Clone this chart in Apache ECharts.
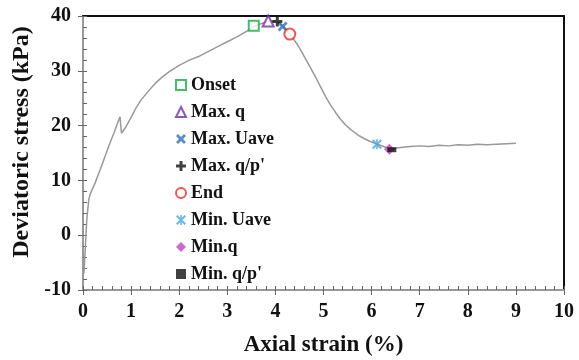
<!DOCTYPE html>
<html>
<head>
<meta charset="utf-8">
<script src="https://cdn.jsdelivr.net/npm/echarts@6/dist/echarts.min.js"></script>
<style>
  html, body { margin: 0; padding: 0; background: #fff; }
  #main { width: 579px; height: 360px; }
</style>
</head>
<body>
<div id="main"></div>
<script>
var strain = [0.02, 0.05, 0.08, 0.12, 0.15, 0.25, 0.35, 0.45, 0.55, 0.65, 0.72, 0.77, 0.80, 0.88, 1.0, 1.1, 1.2, 1.35, 1.5, 1.65, 1.8, 2.0, 2.2, 2.4, 2.6, 2.8, 3.0, 3.2, 3.4, 3.55, 3.7, 3.85, 3.95, 4.05, 4.15, 4.25, 4.35, 4.45, 4.55, 4.65, 4.75, 4.85, 4.95, 5.05, 5.15, 5.25, 5.35, 5.45, 5.55, 5.65, 5.75, 5.85, 5.95, 6.05, 6.15, 6.25, 6.35, 6.45, 6.6, 6.8, 7.0, 7.2, 7.4, 7.6, 7.8, 8.0, 8.2, 8.4, 8.6, 8.8, 9.0];
var stress = [-7, -2, 3, 6.5, 7.5, 9.5, 11.8, 14.2, 16.6, 18.8, 20.5, 21.6, 18.6, 19.6, 21.5, 23.2, 24.6, 26.2, 27.7, 28.9, 29.9, 31.0, 31.9, 32.6, 33.5, 34.4, 35.3, 36.2, 37.2, 38.1, 38.6, 39.0, 39.1, 38.9, 38.2, 37.2, 36.1, 34.9, 33.4, 31.8, 30.2, 28.6, 26.9, 25.2, 23.7, 22.4, 21.2, 20.2, 19.4, 18.7, 18.1, 17.6, 17.2, 16.8, 16.5, 16.2, 15.9, 15.8, 16.0, 16.2, 16.3, 16.2, 16.4, 16.3, 16.5, 16.4, 16.6, 16.5, 16.6, 16.7, 16.8];

var markerNames = ['Onset', 'Max. q', 'Max. Uave', 'Max. q/p\'', 'End', 'Min. Uave', 'Min.q', 'Min. q/p\''];
var markerX = [3.55, 3.85, 4.15, 4.04, 4.30, 6.11, 6.37, 6.42];
var markerY = [38.2, 39.1, 38.1, 39.0, 36.7, 16.6, 15.7, 15.6];

var xTicks = { min: 0, max: 10, interval: 1 };
var yTicks = { min: -10, max: 40, interval: 10 };

var font = 'Liberation Serif';

var crossPath = 'path://M0,2 L2,0 L5,3 L8,0 L10,2 L7,5 L10,8 L8,10 L5,7 L2,10 L0,8 L3,5 Z';
var plusPath = 'path://M3.5,0 L6.5,0 L6.5,3.5 L10,3.5 L10,6.5 L6.5,6.5 L6.5,10 L3.5,10 L3.5,6.5 L0,6.5 L0,3.5 L3.5,3.5 Z';
var starPath = 'path://M0,1.5 L1.5,0 L5,3.5 L8.5,0 L10,1.5 L6.5,5 L10,8.5 L8.5,10 L5,6.5 L1.5,10 L0,8.5 L3.5,5 Z M4.2,0 L5.8,0 L5.8,10 L4.2,10 Z';

var markerStyles = [
  { symbol: 'rect', size: 10, itemStyle: { color: '#fff', borderColor: '#1aaa4a', borderWidth: 2 } },
  { symbol: 'triangle', size: 11, itemStyle: { color: '#fff', borderColor: '#7030a0', borderWidth: 2 } },
  { symbol: crossPath, size: 10, itemStyle: { color: '#2e6fb6' } },
  { symbol: plusPath, size: 10, itemStyle: { color: '#111' } },
  { symbol: 'circle', size: 11, itemStyle: { color: '#fff', borderColor: '#e0332a', borderWidth: 2 } },
  { symbol: starPath, size: 10, itemStyle: { color: '#4aa8dc' } },
  { symbol: 'diamond', size: 11, itemStyle: { color: '#c045c0' } },
  { symbol: 'rect', size: [9, 5], itemStyle: { color: '#111' } }
];

var myChart = echarts.init(document.getElementById('main'), null, { renderer: 'canvas' });

var series = [{
  type: 'line',
  name: 'curve',
  data: strain.map(function (s, i) { return [s, stress[i]]; }),
  showSymbol: false,
  lineStyle: { color: '#999', width: 1.5 },
  z: 1
}];
markerNames.forEach(function (n, i) {
  var st = markerStyles[i];
  series.push({
    type: 'scatter',
    name: n,
    data: [[markerX[i], markerY[i]]],
    symbol: st.symbol,
    symbolSize: st.size,
    itemStyle: st.itemStyle,
    z: 3
  });
});

var tickColor = '#666';

// second axis on the same side, only for the outward major ticks
function outerTicks(pos, t) {
  return {
    type: 'value',
    position: pos,
    min: t.min, max: t.max, interval: t.interval,
    axisLine: { show: true, onZero: false, lineStyle: { color: '#999', width: 2 } },
    axisTick: { show: true, inside: false, length: 5, lineStyle: { color: tickColor, width: 1 } },
    axisLabel: { show: false },
    splitLine: { show: false }
  };
}

function frameLine(pos, t) {
  return {
    type: 'value',
    position: pos,
    min: t.min, max: t.max,
    axisLine: { onZero: false, lineStyle: { color: '#111', width: 2 } },
    axisTick: { show: false },
    axisLabel: { show: false },
    splitLine: { show: false }
  };
}

var option = {
  animation: false,
  grid: { left: 83, right: 15, top: 16, bottom: 70, outerBoundsMode: 'none' },
  legend: {
    data: markerNames,
    orient: 'vertical',
    left: 170,
    top: 71,
    itemGap: 9,
    itemWidth: 10,
    itemHeight: 10,
    textStyle: { fontFamily: font, fontWeight: 'bold', fontSize: 18, color: '#111' }
  },
  xAxis: [{
    type: 'value',
    position: 'bottom',
    min: xTicks.min, max: xTicks.max, interval: xTicks.interval,
    name: 'Axial strain (%)',
    nameLocation: 'middle',
    nameGap: 44,
    nameTextStyle: { fontFamily: font, fontWeight: 'bold', fontSize: 23, color: '#111' },
    axisLine: { show: true, onZero: false, lineStyle: { color: '#999', width: 2 } },
    axisTick: { show: true, inside: true, length: 4, lineStyle: { color: tickColor, width: 1 } },
    minorTick: { show: true, splitNumber: 5, length: 4, lineStyle: { color: tickColor, width: 1 } },
    axisLabel: { margin: 12, fontFamily: font, fontWeight: 'bold', fontSize: 20, color: '#111' },
    splitLine: { show: false }
  }, outerTicks('bottom', xTicks), frameLine('top', xTicks)],
  yAxis: [{
    type: 'value',
    position: 'left',
    min: yTicks.min, max: yTicks.max, interval: yTicks.interval,
    name: 'Deviatoric stress (kPa)',
    nameLocation: 'middle',
    nameGap: 47,
    nameTextStyle: { fontFamily: font, fontWeight: 'bold', fontSize: 24, color: '#111', padding: [0, 0, 0, 22] },
    axisLine: { show: true, onZero: false, lineStyle: { color: '#999', width: 2 } },
    axisTick: { show: true, inside: true, length: 4, lineStyle: { color: tickColor, width: 1 } },
    minorTick: { show: true, splitNumber: 5, length: 4, lineStyle: { color: tickColor, width: 1 } },
    axisLabel: { margin: 12, fontFamily: font, fontWeight: 'bold', fontSize: 20, color: '#111' },
    splitLine: { show: false }
  }, outerTicks('left', yTicks), frameLine('right', yTicks)],
  series: series
};

option && myChart.setOption(option);
</script>
</body>
</html>
